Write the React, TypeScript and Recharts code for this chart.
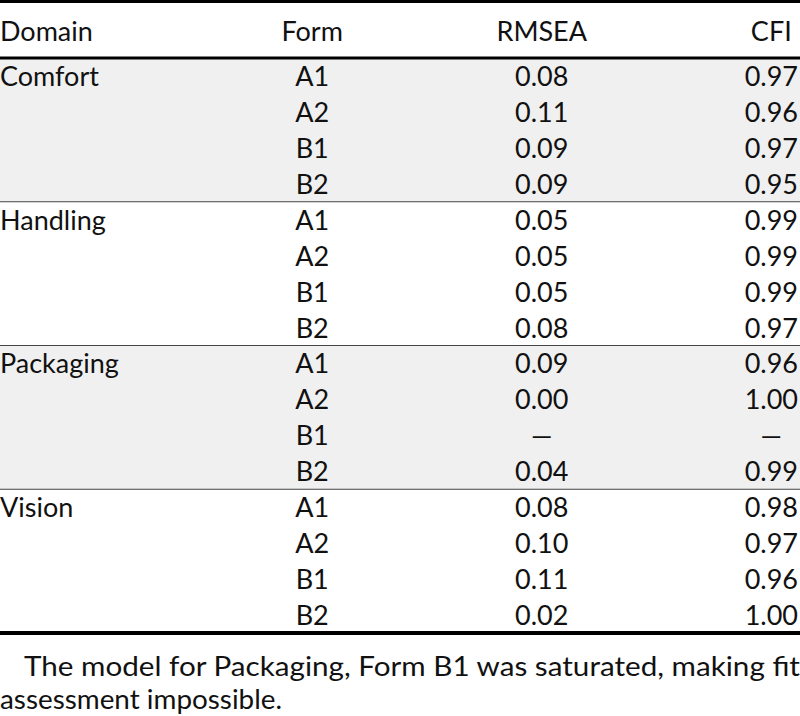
import React from "react";
import {
  ScatterChart,
  Scatter,
  XAxis,
  YAxis,
  ReferenceArea,
  ReferenceLine,
} from "recharts";

const domains = ["Comfort", "Handling", "Packaging", "Vision"];
const forms = ["A1", "A2", "B1", "B2"];
const headers = ["Domain", "Form", "RMSEA", "CFI"];
const shadedDomains = ["Comfort", "Packaging"];

// one value per domain x form, in row order; null = saturated model
const rmsea: (number | null)[] = [
  0.08, 0.11, 0.09, 0.09,
  0.05, 0.05, 0.05, 0.08,
  0.09, 0.0, null, 0.04,
  0.08, 0.1, 0.11, 0.02,
];
const cfi: (number | null)[] = [
  0.97, 0.96, 0.97, 0.95,
  0.99, 0.99, 0.99, 0.97,
  0.96, 1.0, null, 0.99,
  0.98, 0.97, 0.96, 1.0,
];

const FONT = "Lato, 'Open Sans', sans-serif";
const FONT_SIZE = 27;
const X_DOMAIN: [number, number] = [-0.36, 3.125];
const ROWS = domains.length * forms.length;

const fmt = (v: number | null) => (v == null ? "\u2014" : v.toFixed(2));

const rows = domains.flatMap((d, g) =>
  forms.map((f, i) => {
    const idx = g * forms.length + i;
    return { idx, domain: d, form: f, rmsea: rmsea[idx], cfi: cfi[idx] };
  })
);

const domainCells = domains.map((d, g) => ({ x: X_DOMAIN[0], y: g * forms.length, label: d }));
const formCells = rows.map((r) => ({ x: 1, y: r.idx, label: r.form }));
const rmseaCells = rows.map((r) => ({ x: 2, y: r.idx, label: fmt(r.rmsea) }));
const cfiCells = rows.map((r) => ({ x: 3, y: r.idx, label: fmt(r.cfi) }));

const headerTicks = [X_DOMAIN[0], 1, 2, 3];

function CellText(props: any, anchor: "start" | "middle") {
  const { cx, cy, payload } = props;
  return (
    <text
      x={cx}
      y={cy}
      dy="0.37em"
      textAnchor={anchor}
      fontFamily={FONT}
      fontSize={FONT_SIZE}
      fill="#111"
    >
      {payload.label}
    </text>
  );
}

function HeaderTick(props: any) {
  const { x, y, payload } = props;
  const i = headerTicks.indexOf(payload.value);
  return (
    <text
      x={x}
      y={y - 26}
      dy="0.35em"
      textAnchor={i === 0 ? "start" : "middle"}
      fontFamily={FONT}
      fontSize={FONT_SIZE}
      fill="#111"
    >
      {headers[i]}
    </text>
  );
}

export default function App() {
  return (
    <div
      style={{
        position: "absolute",
        left: 0,
        top: 0,
        width: 800,
        height: 716,
        background: "#fff",
        borderTop: "3px solid #000",
        boxSizing: "border-box",
      }}
    >
      <ScatterChart width={800} height={640} margin={{ top: 0, right: 0, bottom: 10, left: 0 }}>
        {domains.map((d, g) =>
          shadedDomains.includes(d) ? (
            <ReferenceArea
              key={d}
              y1={g * forms.length - 0.5}
              y2={(g + 1) * forms.length - 0.5}
              fill="#f0f0f0"
              fillOpacity={1}
              stroke="none"
            />
          ) : null
        )}
        {domains.slice(1).map((d, g) => (
          <ReferenceLine key={d} y={(g + 1) * forms.length - 0.5} stroke="#444" strokeWidth={1.2} />
        ))}
        <ReferenceLine y={ROWS - 0.5} stroke="#000" strokeWidth={4} />
        <XAxis
          type="number"
          dataKey="x"
          orientation="top"
          domain={X_DOMAIN}
          allowDataOverflow
          ticks={headerTicks}
          interval={0}
          height={55}
          tickLine={false}
          tickSize={0}
          tickMargin={0}
          axisLine={{ stroke: "#000", strokeWidth: 3 }}
          tick={(p: any) => <HeaderTick {...p} />}
        />
        <YAxis
          type="number"
          dataKey="y"
          domain={[-0.5, ROWS - 0.5]}
          allowDataOverflow
          reversed
          hide
        />
        <Scatter data={domainCells} isAnimationActive={false} shape={(p: any) => CellText(p, "start")} />
        <Scatter data={formCells} isAnimationActive={false} shape={(p: any) => CellText(p, "middle")} />
        <Scatter data={rmseaCells} isAnimationActive={false} shape={(p: any) => CellText(p, "middle")} />
        <Scatter data={cfiCells} isAnimationActive={false} shape={(p: any) => CellText(p, "middle")} />
      </ScatterChart>
      <svg width={800} height={73} style={{ display: "block" }}>
        <text
          x={24}
          y={24}
          dy="0.35em"
          fontFamily={FONT}
          fontSize={26}
          fill="#111"
          textLength={776}
          lengthAdjust="spacingAndGlyphs"
        >
          The model for Packaging, Form B1 was saturated, making fit
        </text>
        <text
          x={0}
          y={57}
          dy="0.35em"
          fontFamily={FONT}
          fontSize={26}
          fill="#111"
          textLength={282}
          lengthAdjust="spacingAndGlyphs"
        >
          assessment impossible.
        </text>
      </svg>
    </div>
  );
}
